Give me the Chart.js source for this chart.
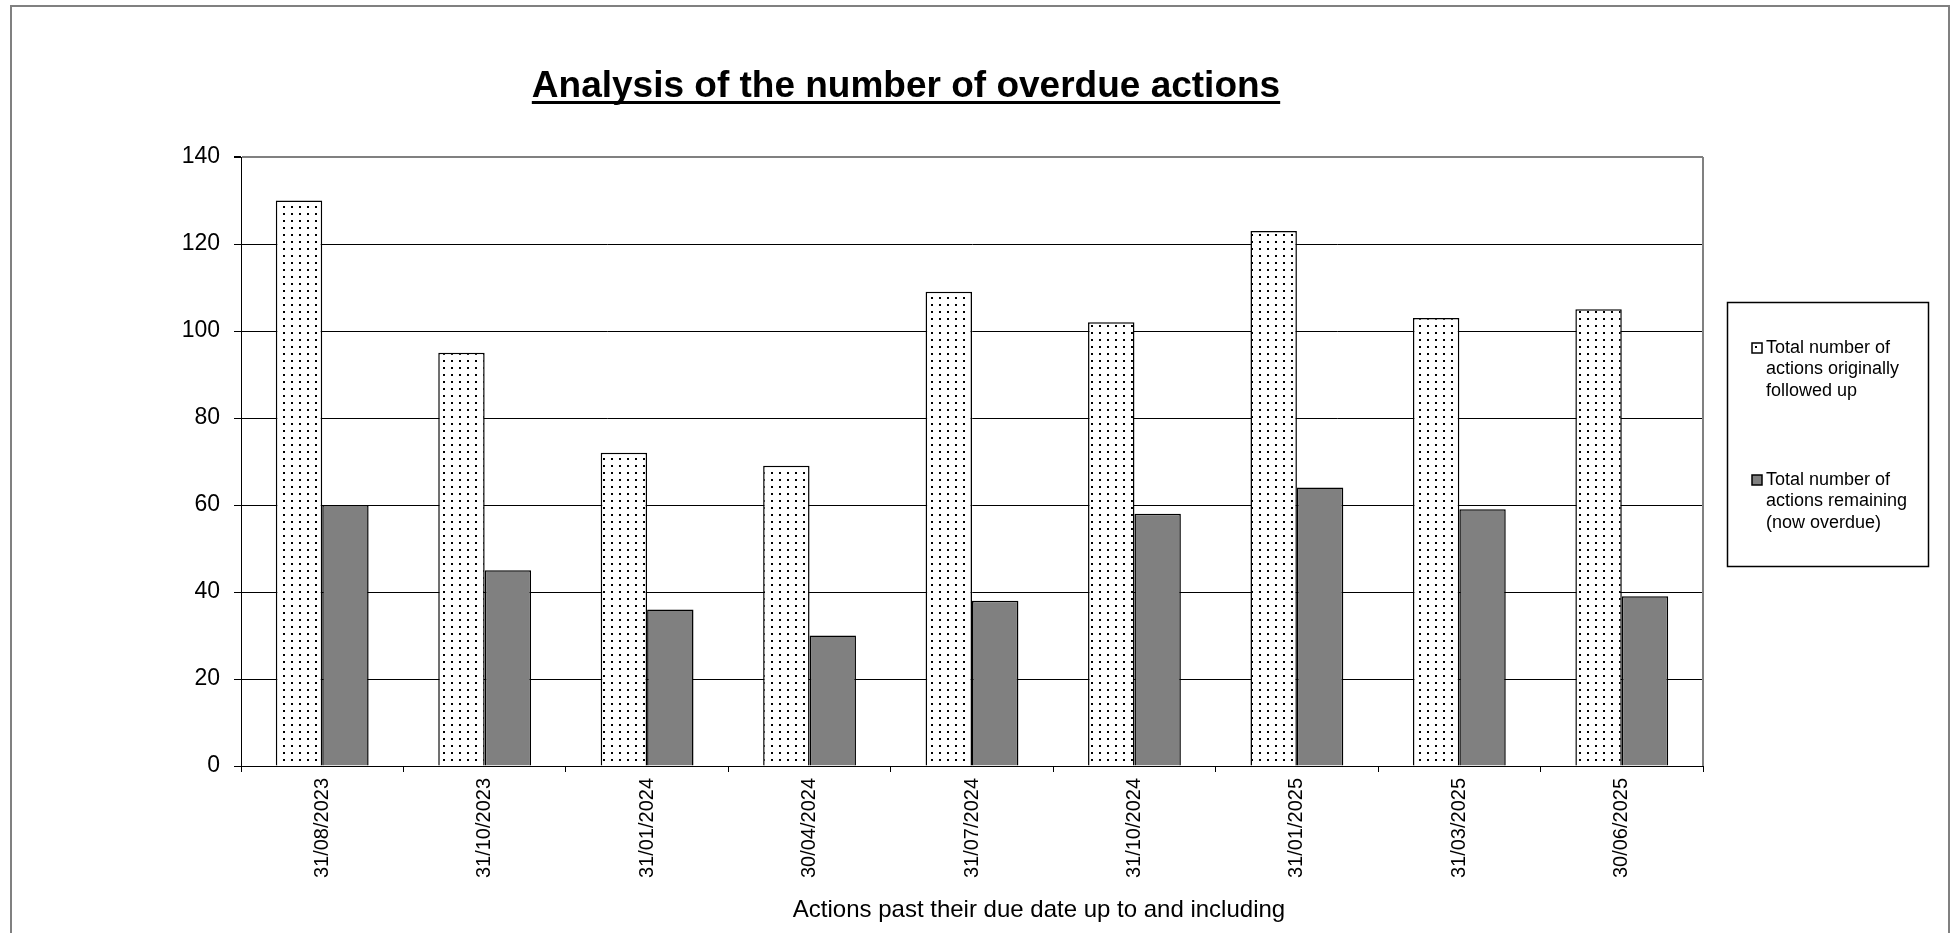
<!DOCTYPE html>
<html>
<head>
<meta charset="utf-8">
<script src="https://cdn.jsdelivr.net/npm/chart.js@4/dist/chart.umd.min.js"></script>
<style>
html,body{margin:0;padding:0;background:#fff;}
canvas{display:block;}
</style>
</head>
<body>
<canvas id="c" width="1951" height="933"></canvas>
<script>
// ---- data ----
const categories = ['31/08/2023','31/10/2023','31/01/2024','30/04/2024','31/07/2024','31/10/2024','31/01/2025','31/03/2025','30/06/2025'];
const originallyFollowedUp = [130, 95, 72, 69, 109, 102, 123, 103, 105];
const remainingOverdue = [60, 45, 36, 30, 38, 58, 64, 59, 39];
const yTickValues = [0, 20, 40, 60, 80, 100, 120, 140];
const series1Lines = ['Total number of', 'actions originally', 'followed up'];
const series2Lines = ['Total number of', 'actions remaining', '(now overdue)'];
const chartTitle = 'Analysis of the number of overdue actions';
const xAxisTitle = 'Actions past their due date up to and including';

const FONT = '"Liberation Sans", Arial, Helvetica, sans-serif';
const canvas = document.getElementById('c');
const ctx0 = canvas.getContext('2d');

function dotPattern() {
  const c = document.createElement('canvas');
  c.width = 8; c.height = 7;
  const g = c.getContext('2d');
  g.fillStyle = '#fff'; g.fillRect(0, 0, 8, 7);
  g.fillStyle = '#000'; g.fillRect(3, 3, 2, 2);
  return ctx0.createPattern(c, 'repeat');
}

const deco = {
  id: 'deco',
  beforeDraw(chart) {
    const ctx = chart.ctx;
    ctx.save();
    ctx.fillStyle = '#fff';
    ctx.fillRect(0, 0, chart.width, chart.height);
    ctx.strokeStyle = '#808080';
    ctx.lineWidth = 2;
    ctx.strokeRect(11, 6, 1938, 1000);
    ctx.restore();
  },
  afterDraw(chart) {
    const ctx = chart.ctx;
    const a = chart.chartArea;
    ctx.save();
    // right plot border
    ctx.strokeStyle = '#808080';
    ctx.lineWidth = 2;
    ctx.beginPath();
    ctx.moveTo(a.right, a.top);
    ctx.lineTo(a.right, a.bottom);
    ctx.stroke();
    // title
    ctx.fillStyle = '#000';
    ctx.font = 'bold 37px ' + FONT;
    ctx.textAlign = 'center';
    ctx.textBaseline = 'alphabetic';
    ctx.fillText(chartTitle, 906, 97);
    const w = ctx.measureText(chartTitle).width;
    ctx.fillRect(906 - w / 2, 101, w, 3);
    // x axis title
    ctx.font = '24px ' + FONT;
    ctx.fillText(xAxisTitle, 1039, 917);
    // legend
    ctx.strokeStyle = '#000';
    ctx.lineWidth = 1.5;
    ctx.strokeRect(1727.5, 302.5, 201, 264);
    const entries = [
      { lines: series1Lines, y: 348, fill: chart.data.datasets[0].backgroundColor },
      { lines: series2Lines, y: 480, fill: chart.data.datasets[1].backgroundColor }
    ];
    ctx.font = '18px ' + FONT;
    ctx.textAlign = 'left';
    ctx.textBaseline = 'middle';
    entries.forEach(e => {
      ctx.fillStyle = e.fill;
      ctx.fillRect(1752, e.y - 5, 10, 10);
      ctx.lineWidth = 1.5;
      ctx.strokeRect(1752, e.y - 5, 10, 10);
      ctx.fillStyle = '#000';
      e.lines.forEach((t, i) => ctx.fillText(t, 1766, e.y + i * 21.5));
    });
    ctx.restore();
  }
};

new Chart(canvas, {
  type: 'bar',
  data: {
    labels: categories,
    datasets: [
      {
        label: series1Lines.join(' '),
        data: originallyFollowedUp,
        backgroundColor: dotPattern(),
        borderColor: '#000',
        borderWidth: 1.5,
        categoryPercentage: 0.5714,
        barPercentage: 1
      },
      {
        label: series2Lines.join(' '),
        data: remainingOverdue,
        backgroundColor: '#808080',
        borderColor: '#000',
        borderWidth: 1.5,
        categoryPercentage: 0.5714,
        barPercentage: 1
      }
    ]
  },
  options: {
    responsive: false,
    devicePixelRatio: 1,
    animation: false,
    layout: { padding: { left: 0, top: 157, right: 248, bottom: 0 } },
    plugins: {
      legend: { display: false },
      title: { display: false },
      tooltip: { enabled: false }
    },
    scales: {
      x: {
        offset: true,
        grid: { display: true, offset: true, drawOnChartArea: false, drawTicks: true, tickLength: 6, color: '#000', tickColor: '#000' },
        border: { display: true, color: '#000', width: 1 },
        ticks: { autoSkip: false, minRotation: 90, maxRotation: 90, padding: 6, color: '#000', font: { family: FONT, size: 20 } },
        afterFit(scale) { scale.height = 167; }
      },
      y: {
        min: 0,
        max: 140,
        afterBuildTicks(scale) { scale.ticks = yTickValues.map(v => ({ value: v })); },
        grid: {
          color: c => (c.tick && c.tick.value === 140) ? '#808080' : '#000',
          lineWidth: c => (c.tick && c.tick.value === 140) ? 2 : 1,
          tickColor: '#000',
          tickLength: 7
        },
        border: { display: true, color: '#000', width: 1 },
        ticks: { padding: 14, color: '#000', font: { family: FONT, size: 23 } },
        afterFit(scale) { scale.width = 241; }
      }
    }
  },
  plugins: [deco]
});
</script>
</body>
</html>
